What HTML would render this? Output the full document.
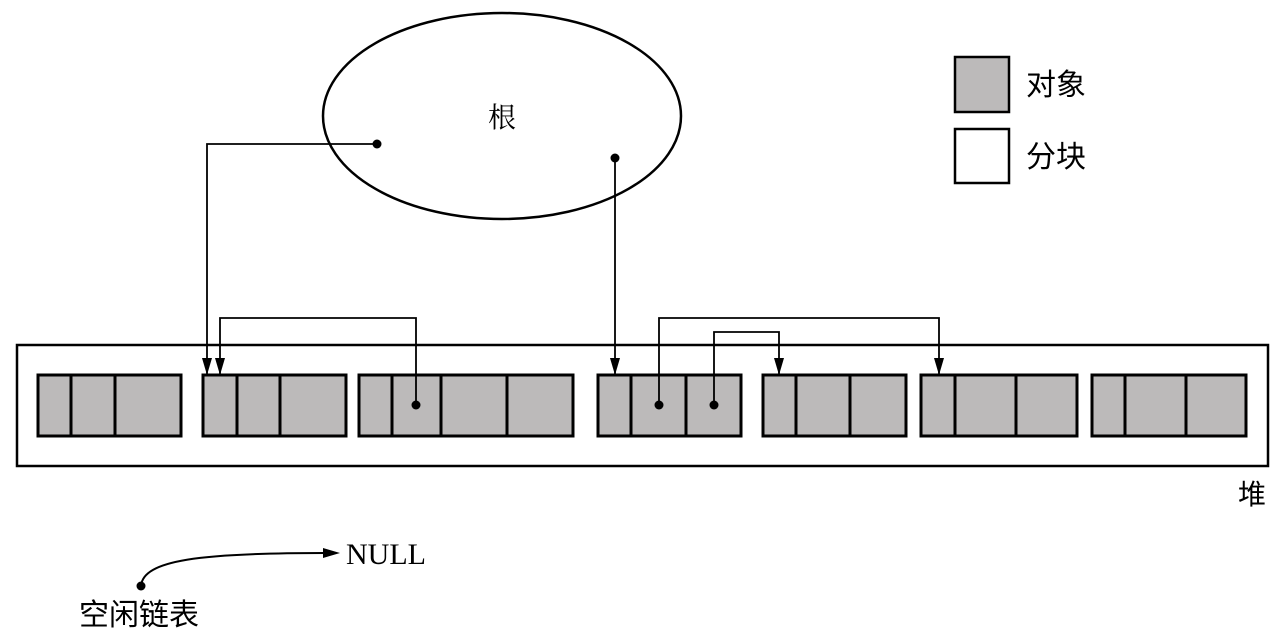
<!DOCTYPE html>
<html><head><meta charset="utf-8"><style>
html,body{margin:0;padding:0;background:#fff;}
svg{display:block;}
</style></head><body>
<svg width="1280" height="634" viewBox="0 0 1280 634" xmlns="http://www.w3.org/2000/svg">
<defs>
<marker id="a" markerWidth="18" markerHeight="12" refX="17" refY="5" orient="auto" markerUnits="userSpaceOnUse">
<path d="M0,0 L17,5 L0,10 z" fill="#000"/>
</marker>
</defs>
<ellipse cx="502" cy="116" rx="179" ry="103" fill="#fff" stroke="#000" stroke-width="2.5"/>
<text x="502" y="127" font-family="Liberation Serif, Noto Serif CJK SC, serif" font-size="28" text-anchor="middle">根</text>
<rect x="955" y="57" width="54" height="55" fill="#bcbaba" stroke="#000" stroke-width="2.5"/>
<rect x="955" y="129" width="54" height="54" fill="#fff" stroke="#000" stroke-width="2.5"/>
<text x="1026" y="95" font-family="Liberation Sans, Noto Sans CJK SC, sans-serif" font-size="30">对象</text>
<text x="1026" y="167" font-family="Liberation Sans, Noto Sans CJK SC, sans-serif" font-size="30">分块</text>
<rect x="17" y="345" width="1251" height="121" fill="#fff" stroke="#000" stroke-width="2.5"/>
<text x="1252" y="504" font-family="Liberation Sans, Noto Sans CJK SC, sans-serif" font-size="28" text-anchor="middle">堆</text>
<g fill="#bcbaba" stroke="#000" stroke-width="3">
<rect x="38" y="375" width="143" height="61"/>
<rect x="203" y="375" width="143" height="61"/>
<rect x="359" y="375" width="214" height="61"/>
<rect x="598" y="375" width="143" height="61"/>
<rect x="763" y="375" width="143" height="61"/>
<rect x="921" y="375" width="156" height="61"/>
<rect x="1092" y="375" width="154" height="61"/>
</g>
<g stroke="#000" stroke-width="3">
<line x1="71" y1="375" x2="71" y2="436"/><line x1="115" y1="375" x2="115" y2="436"/>
<line x1="237" y1="375" x2="237" y2="436"/><line x1="280" y1="375" x2="280" y2="436"/>
<line x1="392" y1="375" x2="392" y2="436"/><line x1="441" y1="375" x2="441" y2="436"/><line x1="507" y1="375" x2="507" y2="436"/>
<line x1="631" y1="375" x2="631" y2="436"/><line x1="686" y1="375" x2="686" y2="436"/>
<line x1="796" y1="375" x2="796" y2="436"/><line x1="850" y1="375" x2="850" y2="436"/>
<line x1="955" y1="375" x2="955" y2="436"/><line x1="1016" y1="375" x2="1016" y2="436"/>
<line x1="1125" y1="375" x2="1125" y2="436"/><line x1="1186" y1="375" x2="1186" y2="436"/>
</g>
<g fill="none" stroke="#000" stroke-width="1.8" marker-end="url(#a)">
<polyline points="377,144 207,144 207,375"/>
<polyline points="615,158 615,375"/>
<polyline points="416,405 416,318 220,318 220,375"/>
<polyline points="659,405 659,318 939,318 939,375"/>
<polyline points="714,405 714,332 779,332 779,375"/>
</g>
<g fill="#000">
<circle cx="377" cy="144" r="4.5"/><circle cx="615" cy="158" r="4.5"/>
<circle cx="416" cy="405" r="4.5"/><circle cx="659" cy="405" r="4.5"/><circle cx="714" cy="405" r="4.5"/>
<circle cx="141" cy="586" r="4.5"/>
</g>
<path d="M141,586 C143,560 200,553 325,553" fill="none" stroke="#000" stroke-width="2"/>
<path d="M323,548 L340,553 L323,558 z" fill="#000"/>
<text x="346" y="564" font-family="Liberation Serif, serif" font-size="30">NULL</text>
<text x="79" y="625" font-family="Liberation Sans, Noto Sans CJK SC, sans-serif" font-size="30">空闲链表</text>
</svg>
</body></html>
